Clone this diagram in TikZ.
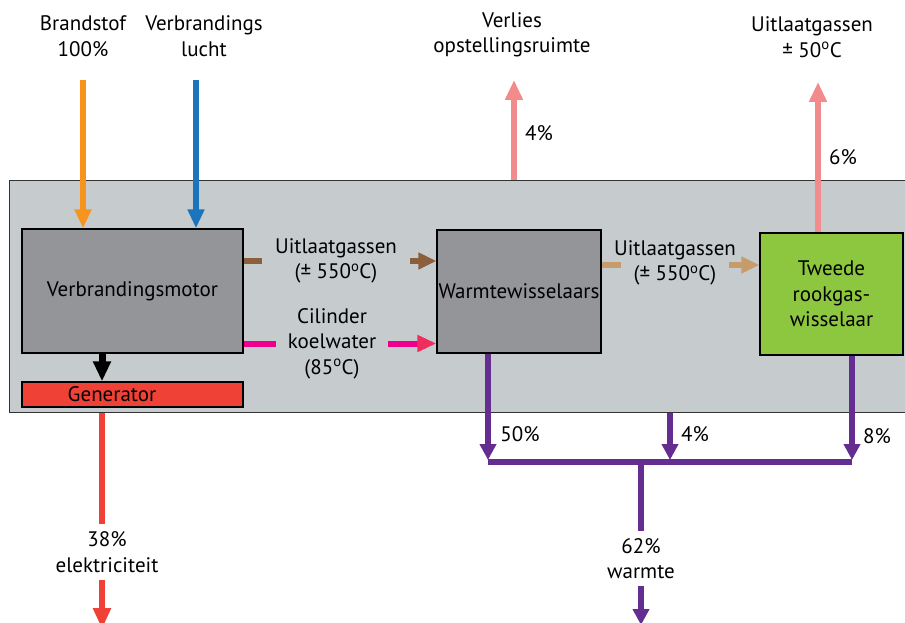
\documentclass[tikz,border=0pt]{standalone}
\usepackage{fontspec}
\setmainfont{PT Sans}
\usetikzlibrary{arrows.meta}
\definecolor{bg}{HTML}{C6CBCE}
\definecolor{boxgrey}{HTML}{939598}
\definecolor{genred}{HTML}{EF4136}
\definecolor{tgreen}{HTML}{8DC63F}
\definecolor{forange}{HTML}{F7941D}
\definecolor{ablue}{HTML}{1C75BC}
\definecolor{ebrown}{HTML}{8B5E3C}
\definecolor{ebeige}{HTML}{C69C6D}
\definecolor{cpink}{HTML}{EC008C}
\definecolor{cpinkhead}{HTML}{EF2D5E}
\definecolor{lsalmon}{HTML}{F28B8C}
\definecolor{wpurple}{HTML}{662D91}
\newcommand{\dgr}{\textsuperscript{o}}
\begin{document}
\begin{tikzpicture}[x=1pt,y=-1pt,
  every node/.style={font=\fontsize{21}{25.5}\selectfont, align=center, inner sep=0pt},
  blk/.style={draw=black, line width=1.3pt, inner sep=0pt},
  flow/.style={line width=6pt},
  tip/.style={-{Triangle[length=19pt,width=16pt]}},
  ptip/.style={-{Triangle[length=16pt,width=16pt]}},
  lbl/.style={inner xsep=12pt}
]
\useasboundingbox (0,0) rectangle (905,623);
\fill[white] (0,0) rectangle (905,623);

% frame
\node[draw=black!80, line width=1pt, fill=bg, minimum width=901pt, minimum height=232pt] (frame) at (459.5,296) {};

% boxes
\node[blk, fill=boxgrey, minimum width=221pt, minimum height=124pt] (motor) at (132.5,291) {Verbrandingsmotor};
\node[blk, fill=genred, minimum width=221pt, minimum height=25pt] (gen) at (132.5,394.5) {Generator\hspace*{41pt}};
\node[blk, fill=boxgrey, minimum width=164pt, minimum height=123pt] (ww) at (519,291.5) {Warmtewisselaars};
\node[blk, fill=tgreen, minimum width=143pt, minimum height=122pt] (tw) at (831.5,294) {Tweede\\rookgas-\\wisselaar};

% top labels
\node (brand) at (83,36) {Brandstof\\100\%};
\node (lucht) at (204,36) {Verbrandings\\lucht};
\node (verlies) at (512,35) {Verlies\\opstellingsruimte};
\node (uitl) at (812,37) {Uitlaatgassen\\± 50\dgr C};

\coordinate (o1) at (83,80);
\coordinate (b1) at (196,80);
\coordinate (s1) at (514,80);
\coordinate (s2) at (818,82);
\coordinate (cx) at (102,400);

% inputs
\draw[flow, forange, tip] (o1) -- (motor.north -| o1);
\draw[flow, ablue, tip] (b1) -- (motor.north -| b1);

% motor -> generator
\draw[flow, line width=7pt, black, -{Triangle[length=20pt,width=17pt]}] (motor.south -| cx) -- (gen.north -| cx);

% salmon losses
\draw[flow, line width=6.5pt, lsalmon, -{Triangle[length=20pt,width=17pt]}] (frame.north -| s1) -- (s1);
\draw[flow, line width=6.5pt, lsalmon, -{Triangle[length=20pt,width=17pt]}] (tw.north -| s2) -- (s2);
\node (p4) at (539,133) {4\%};
\node (p6) at (843,157) {6\%};

% exhaust motor -> ww
\node[lbl, inner xsep=13pt] (ug1) at (336,261) {Uitlaatgassen\\(± 550\dgr C)};
\draw[flow, line width=5.5pt, ebrown] (motor.east |- ug1) -- (ug1.west);
\draw[flow, line width=5.5pt, ebrown, -{Triangle[length=18pt,width=16pt]}] (ug1.east) -- (ww.west |- ug1);

% cooling water
\node[lbl, inner xsep=12pt] (kw) at (332,343.5) {Cilinder\\koelwater\\(85\dgr C)};
\draw[flow, line width=6pt, cpink] (motor.east |- kw) -- (kw.west);
\draw[flow, line width=6pt, cpink, -{Triangle[length=19pt,width=16pt,color=cpinkhead]}] (kw.east) -- (ww.west |- kw);

% exhaust ww -> tw
\node[lbl, inner xsep=-7pt] (ug2) at (675,263) {Uitlaatgassen\\(± 550\dgr C)};
\draw[flow, line width=5.5pt, ebeige] (ww.east |- 0,265) -- (ug2.west |- 0,265);
\draw[flow, line width=5.5pt, ebeige, -{Triangle[length=18pt,width=16pt]}] (ug2.east |- 0,265) -- (tw.west |- 0,265);

% electricity
\coordinate (rb) at (102,629);
\node[minimum height=56pt] (el) at (107,552) {38\%\\elektriciteit};
\draw[flow, line width=6.5pt, genred] (frame.south -| rb) -- (el.north -| rb);
\draw[flow, line width=6.5pt, genred, -{Triangle[length=21pt,width=17pt]}] (el.south -| rb) -- (rb);

% heat collection
\coordinate (j1) at (488,462);
\coordinate (j2) at (670,462);
\coordinate (j3) at (852,462);
\coordinate (j0) at (641,462);
\draw[flow, wpurple] (j1) -- (j3);
\draw[flow, wpurple, ptip, shorten >=2pt] (ww.south -| j1) -- (j1);
\draw[flow, wpurple, ptip, shorten >=2pt] (frame.south -| j2) -- (j2);
\draw[flow, wpurple, ptip, shorten >=2pt] (tw.south -| j3) -- (j3);
\node (p50) at (520,434) {50\%};
\node (p4b) at (695,434) {4\%};
\node (p8) at (877,436) {8\%};

\coordinate (pb) at (641,625);
\node[minimum height=55pt] (wm) at (641,558.5) {62\%\\warmte};
\draw[flow, wpurple] (j0) -- (wm.north);
\draw[flow, wpurple, ptip] (wm.south) -- (pb);
\end{tikzpicture}
\end{document}
